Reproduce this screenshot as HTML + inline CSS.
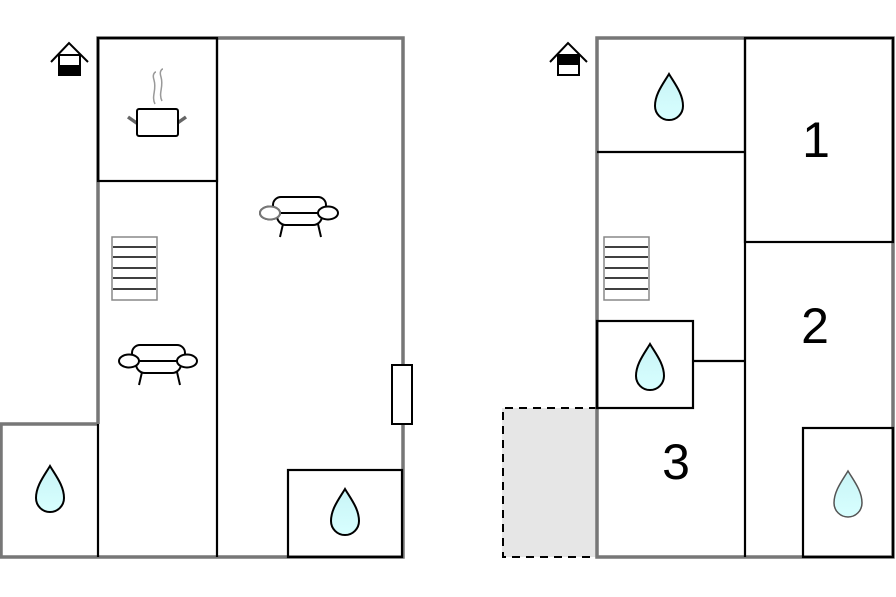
<!DOCTYPE html>
<html><head><meta charset="utf-8"><style>html,body{margin:0;padding:0;background:#fff}svg{display:block}</style></head><body>
<svg width="896" height="597" viewBox="0 0 896 597" xmlns="http://www.w3.org/2000/svg">
<defs>
<linearGradient id="wg" x1="0" y1="0" x2="0" y2="1"><stop offset="0" stop-color="#c8f4f6"/><stop offset="1" stop-color="#d8ffff"/></linearGradient>
<g id="drop"><path d="M0,-24 C-6,-14 -14,-4 -14,8 A14,14 0 0 0 14,8 C14,-4 6,-14 0,-24Z" fill="url(#wg)" stroke="#000" stroke-width="2"/></g>
<g id="sofa" fill="#fff" stroke="#000" stroke-width="2">
<path d="M283,224 L280,237 M318,224 L321,237"/>
<rect x="277" y="204" width="45" height="21" rx="9"/>
<rect x="273" y="197" width="53" height="16" rx="8"/>
<ellipse cx="328" cy="213" rx="10" ry="6.5"/>
<ellipse cx="270" cy="213" rx="10" ry="6.5"/>
</g>
<g id="stairs" fill="none">
<rect x="0" y="0" width="45" height="63" stroke="#888" stroke-width="1.5"/>
<path d="M1,10H44M1,20H44M1,31H44M1,41H44M1,52H44" stroke="#000" stroke-width="1.5"/>
</g>
</defs>

<!-- LEFT PLAN -->
<g fill="none" stroke="#777" stroke-width="3.5">
<path d="M98,424 V38 H403 V557 H1 V424 H98"/>
</g>
<g fill="none" stroke="#000" stroke-width="2.2">
<rect x="98" y="38" width="119" height="143"/>
<line x1="217" y1="38" x2="217" y2="557"/>
<line x1="98" y1="424" x2="98" y2="557"/>
<rect x="288" y="470" width="114" height="87"/>
</g>
<rect x="392" y="365" width="20" height="59" fill="#fff" stroke="#000" stroke-width="2"/>
<use href="#stairs" x="112" y="237"/>
<use href="#sofa" x="0" y="0"/>
<use href="#sofa" x="-141" y="148"/>
<ellipse cx="270" cy="213" rx="10" ry="6.5" fill="#fff" stroke="#777" stroke-width="2"/>
<use href="#drop" x="50" y="490"/>
<use href="#drop" x="345" y="513"/>
<!-- pot -->
<path d="M155,104 C151,96 157,90 154,80 C152,74 155,72 156,72 M162,101 C158,93 164,87 161,77 C159,71 162,69 163,69" fill="none" stroke="#999" stroke-width="1.5"/>
<path d="M128,117 L138,124 M186,117 L176,124" stroke="#666" stroke-width="3.5"/>
<rect x="137" y="109" width="41" height="27" rx="2" fill="#fff" stroke="#000" stroke-width="2"/>
<!-- house icons -->
<g stroke="#000" stroke-width="2" fill="none">
<path d="M51,62 L69,43 L88,62"/>
<rect x="59" y="55" width="21" height="20" fill="#fff"/>
<rect x="59" y="66" width="21" height="9" fill="#000"/>
<path d="M550,62 L568,43 L587,62"/>
<rect x="558" y="55" width="21" height="20" fill="#fff"/>
<rect x="558" y="55" width="21" height="9" fill="#000"/>
</g>

<!-- RIGHT PLAN -->
<rect x="502" y="408" width="95" height="149" fill="#e6e6e6"/>
<path d="M597,408 H503 V557 H632" fill="none" stroke="#000" stroke-width="2" stroke-dasharray="8,6"/>
<rect x="597" y="38" width="296" height="519" fill="none" stroke="#777" stroke-width="3.5"/>
<g fill="none" stroke="#000" stroke-width="2.2">
<line x1="597" y1="152" x2="745" y2="152"/>
<line x1="745" y1="38" x2="745" y2="557"/>
<rect x="745" y="38" width="148" height="204"/>
<rect x="597" y="321" width="96" height="87"/>
<line x1="693" y1="361" x2="745" y2="361"/>
<rect x="803" y="428" width="90" height="129"/>
</g>
<use href="#stairs" x="604" y="237"/>
<use href="#drop" x="669" y="98"/>
<use href="#drop" x="650" y="368"/>
<g transform="translate(848,495)"><path d="M0,-24 C-6,-14 -14,-4 -14,8 A14,14 0 0 0 14,8 C14,-4 6,-14 0,-24Z" fill="url(#wg)" stroke="#555" stroke-width="1.5"/></g>
<g font-family="Liberation Sans, sans-serif" font-size="50" fill="#000" text-anchor="middle">
<text x="816" y="157">1</text>
<text x="815" y="343">2</text>
<text x="676" y="479">3</text>
</g>
</svg>
</body></html>
